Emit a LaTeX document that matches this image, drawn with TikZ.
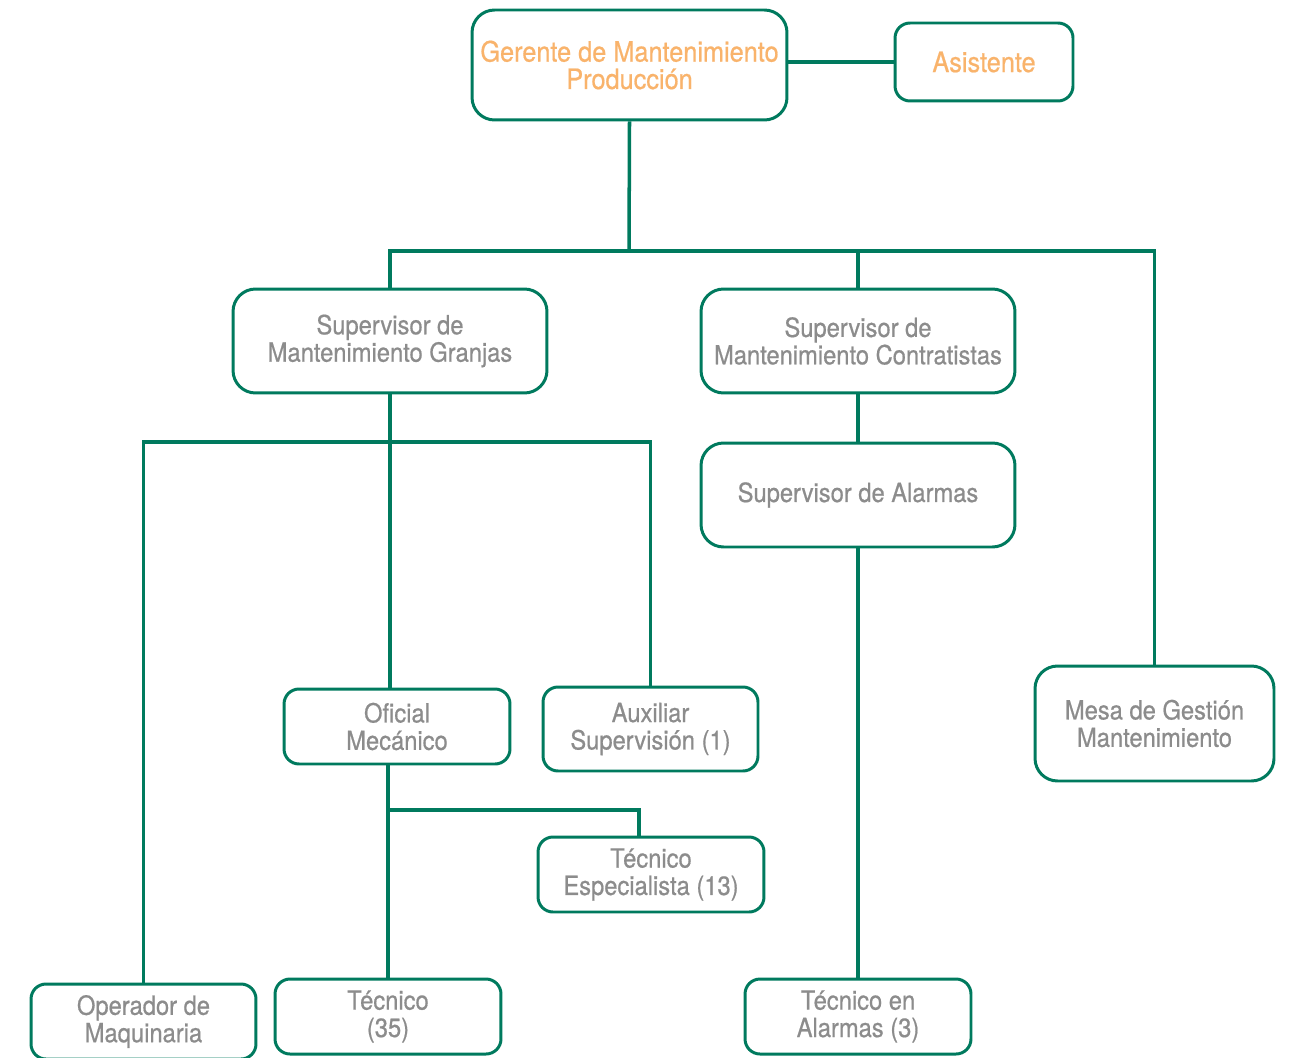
\documentclass[tikz,border=0pt]{standalone}
\usepackage{fontspec}
\setmainfont[FakeStretch=0.9,FakeBold=0.6]{TeX Gyre Heros}
\definecolor{linea}{RGB}{0,122,94}
\definecolor{gris}{RGB}{140,140,140}
\definecolor{naranja}{RGB}{249,179,107}
\tikzset{
  caja/.style={draw=linea, line width=1.7pt, rounded corners=0.3cm, align=center,
    text=gris, inner sep=0pt, font=\fontsize{15}{15.6}\selectfont},
  cajagrande/.style={caja, rounded corners=0.45cm},
  jefe/.style={text=naranja, font=\fontsize{16}{15.6}\selectfont},
  conector/.style={draw=linea, line width=2pt}
}
\begin{document}
\begin{tikzpicture}[x=0.02cm,y=-0.02cm]
			\fill[white] (0,0) rectangle (1293,1057);
			\useasboundingbox (0,0) rectangle (1293,1057);
			\begin{scope}[every node/.style={caja}]
				\node[cajagrande, jefe, minimum width=6.3cm, minimum height=2.2cm] (gerente) at (629.5,65) {Gerente de Mantenimiento\\Producción};
				\node[jefe, minimum width=3.56cm, minimum height=1.56cm] (asistente) at (984,62) {Asistente};
				\node[cajagrande, minimum width=6.28cm, minimum height=2.08cm] (granjas) at (390,341) {Supervisor de\\Mantenimiento Granjas};
				\node[cajagrande, minimum width=6.28cm, minimum height=2.08cm] (contratistas) at (858,341) {Supervisor de\\Mantenimiento Contratistas};
				\node[cajagrande, minimum width=6.28cm, minimum height=2.08cm] (alarmas) at (858,495) {Supervisor de Alarmas};
				\node[cajagrande, minimum width=4.78cm, minimum height=2.3cm] (mesa) at (1154.5,723.5) {Mesa de Gestión\\Mantenimiento};
				\node[minimum width=4.52cm, minimum height=1.5cm] (oficial) at (397,726.5) {Oficial\\Mecánico};
				\node[minimum width=4.3cm, minimum height=1.68cm] (auxiliar) at (650.5,729) {Auxiliar\\Supervisión (1)};
				\node[minimum width=4.52cm, minimum height=1.5cm] (especialista) at (651,874.5) {Técnico\\Especialista (13)};
				\node[minimum width=4.5cm, minimum height=1.5cm] (operador) at (143.5,1021.5) {Operador de\\Maquinaria};
				\node[minimum width=4.52cm, minimum height=1.5cm] (tecnico) at (388,1016.5) {Técnico\\(35)};
				\node[minimum width=4.52cm, minimum height=1.5cm] (tecalarmas) at (858,1016.5) {Técnico en\\Alarmas (3)};
			\end{scope}
			
			\coordinate (j1) at (629,251);
			\coordinate (j2) at (388,442);
			\coordinate (j3) at (388,810);
			
			\begin{scope}[every path/.style={conector}]
				\draw (asistente.west) -- (asistente.west -| gerente.east);
				\draw (gerente.south) -- (j1);
				\draw (granjas.north) |- (j1) -| (mesa.north);
				\draw (contratistas.north) -- (contratistas.north |- j1);
				\draw (granjas.south) -- (granjas.south |- oficial.north);
				\draw (operador.north) |- (j2) -| (auxiliar.north);
				\draw (contratistas.south) -- (alarmas.north);
				\draw (alarmas.south) -- (tecalarmas.north);
				\draw (tecnico.north) -- (tecnico.north |- oficial.south);
				\draw (j3) -| ([xshift=-0.24cm]especialista.north);
			\end{scope}
		\end{tikzpicture}
\end{document}
